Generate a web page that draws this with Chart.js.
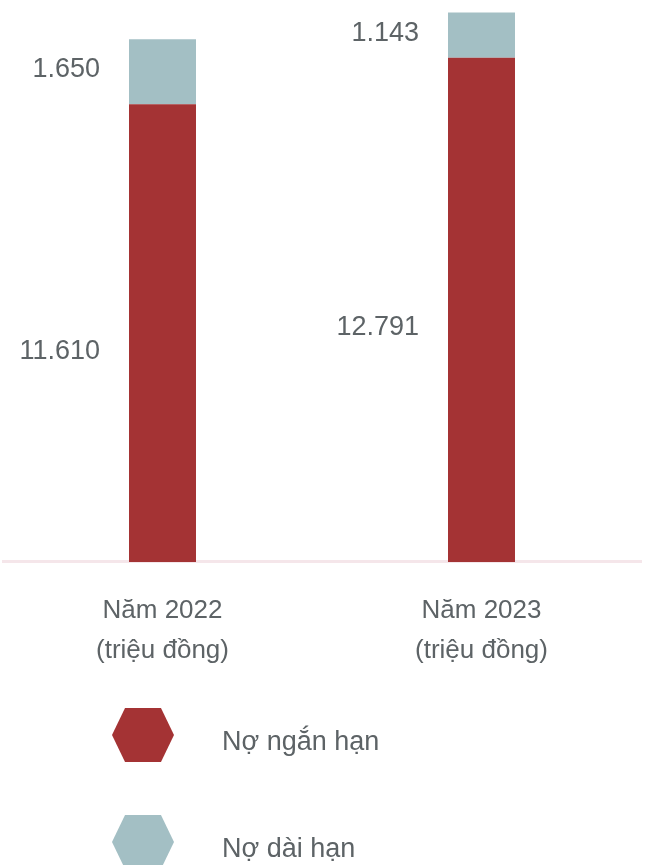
<!DOCTYPE html>
<html lang="vi">
<head>
<meta charset="utf-8">
<title>Nợ phải trả</title>
<script src="https://cdn.jsdelivr.net/npm/chart.js@4"></script>
<style>
  html, body { margin: 0; padding: 0; background: #fff; }
  body { width: 646px; height: 865px; position: relative; overflow: hidden; }
  #khung { position: absolute; left: 0; top: 0; width: 646px; height: 700px; }
  #chuthich { position: absolute; left: 0; top: 0; width: 646px; height: 865px; pointer-events: none; }
  .muc { position: absolute; left: 112px; height: 54px; }
  .luc-giac {
    position: absolute; left: 0; top: 0; width: 62px; height: 54px;
    clip-path: polygon(0 50%, 21% 0, 79% 0, 100% 50%, 79% 100%, 21% 100%);
  }
  .nhan {
    position: absolute; left: 110px; top: 6px; height: 54px; line-height: 54px;
    white-space: nowrap; font-family: "Liberation Sans", sans-serif; font-size: 27px; color: #5d6366;
  }
</style>
</head>
<body>
<div id="khung"><canvas id="bieudo"></canvas></div>
<div id="chuthich"></div>

<script>
// số liệu (triệu đồng)
const nam = [['Năm 2022', '(triệu đồng)'], ['Năm 2023', '(triệu đồng)']];
const noNganHan = [11610, 12791];
const noDaiHan = [1650, 1143];

const mauDo = '#a43334';
const mauXam = '#a3bfc4';
const mauChu = '#5d6366';

function dinhDang(v) {
    return String(v).replace(/\B(?=(\d{3})+(?!\d))/g, '.');
}

// ghi giá trị bên trái mỗi đoạn cột
const nhanGiaTri = {
    id: 'nhanGiaTri',
    afterDatasetsDraw(chart) {
        const ctx = chart.ctx;
        ctx.save();
        ctx.font = '27px "Liberation Sans", sans-serif';
        ctx.fillStyle = mauChu;
        ctx.textAlign = 'right';
        ctx.textBaseline = 'middle';
        chart.data.datasets.forEach((ds, i) => {
            chart.getDatasetMeta(i).data.forEach((bar, j) => {
                const trai = bar.x - bar.width / 2;
                const giua = (bar.y + bar.base) / 2 + (ds.lechNhan || 0);
                ctx.fillText(dinhDang(ds.data[j]), trai - 29, giua);
            });
        });
        ctx.restore();
    }
};

const ctx = document.getElementById('bieudo').getContext('2d');
const chart = new Chart(ctx, {
    type: 'bar',
    data: {
        labels: nam,
        datasets: [
            { label: 'Nợ ngắn hạn', data: noNganHan, backgroundColor: mauDo, lechNhan: 18 },
            { label: 'Nợ dài hạn', data: noDaiHan, backgroundColor: mauXam, lechNhan: -2 }
        ]
    },
    options: {
        responsive: true,
        maintainAspectRatio: false,
        animation: false,
        categoryPercentage: 1,
        barPercentage: 0.21,
        layout: { padding: { top: 10, left: 3, right: 5, bottom: 0 } },
        plugins: {
            legend: { display: false },
            tooltip: { enabled: false }
        },
        scales: {
            x: {
                stacked: true,
                grid: { display: false, drawTicks: false },
                border: { display: true, color: '#f5e6ea', width: 3 },
                ticks: {
                    color: mauChu,
                    padding: 29,
                    maxRotation: 0,
                    autoSkip: false,
                    font: { family: '"Liberation Sans", sans-serif', size: 26, lineHeight: 1.54 }
                }
            },
            y: {
                stacked: true,
                display: false,
                min: 0,
                max: 14000
            }
        }
    },
    plugins: [nhanGiaTri]
});

// chú thích dựng từ các dataset
const tops = [708, 815];
const hop = document.getElementById('chuthich');
chart.data.datasets.forEach((ds, i) => {
    const muc = document.createElement('div');
    muc.className = 'muc';
    muc.style.top = tops[i] + 'px';
    const hinh = document.createElement('div');
    hinh.className = 'luc-giac';
    hinh.style.background = ds.backgroundColor;
    const chu = document.createElement('div');
    chu.className = 'nhan';
    chu.textContent = ds.label;
    muc.appendChild(hinh);
    muc.appendChild(chu);
    hop.appendChild(muc);
});
</script>
</body>
</html>
